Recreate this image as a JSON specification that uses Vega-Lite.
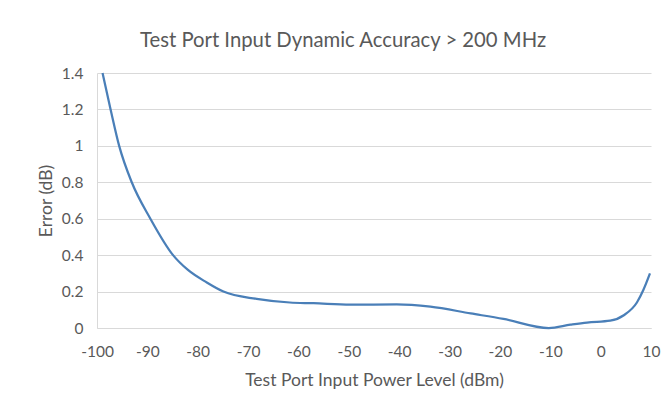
{
  "$schema": "https://vega.github.io/schema/vega-lite/v6.json",
  "width": 554,
  "height": 255,
  "autosize": {"type": "none"},
  "padding": {"left": 97, "top": 73, "right": 15, "bottom": 82},
  "background": "#ffffff",
  "title": {
    "text": "Test Port Input Dynamic Accuracy > 200 MHz",
    "font": "Lato",
    "fontSize": 20.3,
    "fontWeight": "normal",
    "color": "#595959",
    "anchor": "middle",
    "dx": -31,
    "offset": 15
  },
  "data": {
    "values": [
      {"power": -98.9, "error": 1.40},
      {"power": -97.3, "error": 1.20},
      {"power": -95.6, "error": 1.00},
      {"power": -93.1, "error": 0.80},
      {"power": -89.4, "error": 0.60},
      {"power": -84.9, "error": 0.40},
      {"power": -82.0, "error": 0.32},
      {"power": -78.2, "error": 0.25},
      {"power": -74.9, "error": 0.20},
      {"power": -68.3, "error": 0.16},
      {"power": -61.7, "error": 0.14},
      {"power": -57.0, "error": 0.136},
      {"power": -49.7, "error": 0.128},
      {"power": -40.5, "error": 0.13},
      {"power": -33.8, "error": 0.117},
      {"power": -25.8, "error": 0.08},
      {"power": -19.3, "error": 0.05},
      {"power": -10.3, "error": 0.0},
      {"power": -6.0, "error": 0.018},
      {"power": -2.7, "error": 0.03},
      {"power": 1.9, "error": 0.04},
      {"power": 4.6, "error": 0.07},
      {"power": 7.2, "error": 0.14},
      {"power": 8.5, "error": 0.21},
      {"power": 9.8, "error": 0.30}
    ]
  },
  "mark": {"type": "line", "interpolate": "monotone", "color": "#4a7fb8", "strokeWidth": 2.25},
  "encoding": {
    "x": {
      "field": "power",
      "type": "quantitative",
      "scale": {"domain": [-100, 10], "nice": false, "zero": false},
      "axis": {
        "title": "Test Port Input Power Level (dBm)",
        "values": [-100, -90, -80, -70, -60, -50, -40, -30, -20, -10, 0, 10],
        "labelExpr": "'' + datum.value",
        "grid": false,
        "ticks": false,
        "domainColor": "#d9d9d9",
        "labelPadding": 16,
        "labelFlush": false,
        "titlePadding": 12
      }
    },
    "y": {
      "field": "error",
      "type": "quantitative",
      "scale": {"domain": [0, 1.4], "nice": false},
      "axis": {
        "title": "Error (dB)",
        "values": [0, 0.2, 0.4, 0.6, 0.8, 1, 1.2, 1.4],
        "format": "~f",
        "grid": true,
        "gridColor": "#d9d9d9",
        "ticks": false,
        "domainColor": "#d9d9d9",
        "labelPadding": 14,
        "titlePadding": 6
      }
    }
  },
  "config": {
    "view": {"stroke": null},
    "axis": {
      "labelFont": "Lato",
      "labelFontSize": 15.5,
      "labelColor": "#595959",
      "titleFont": "Lato",
      "titleFontSize": 17.5,
      "titleFontWeight": "normal",
      "titleColor": "#595959"
    }
  }
}
